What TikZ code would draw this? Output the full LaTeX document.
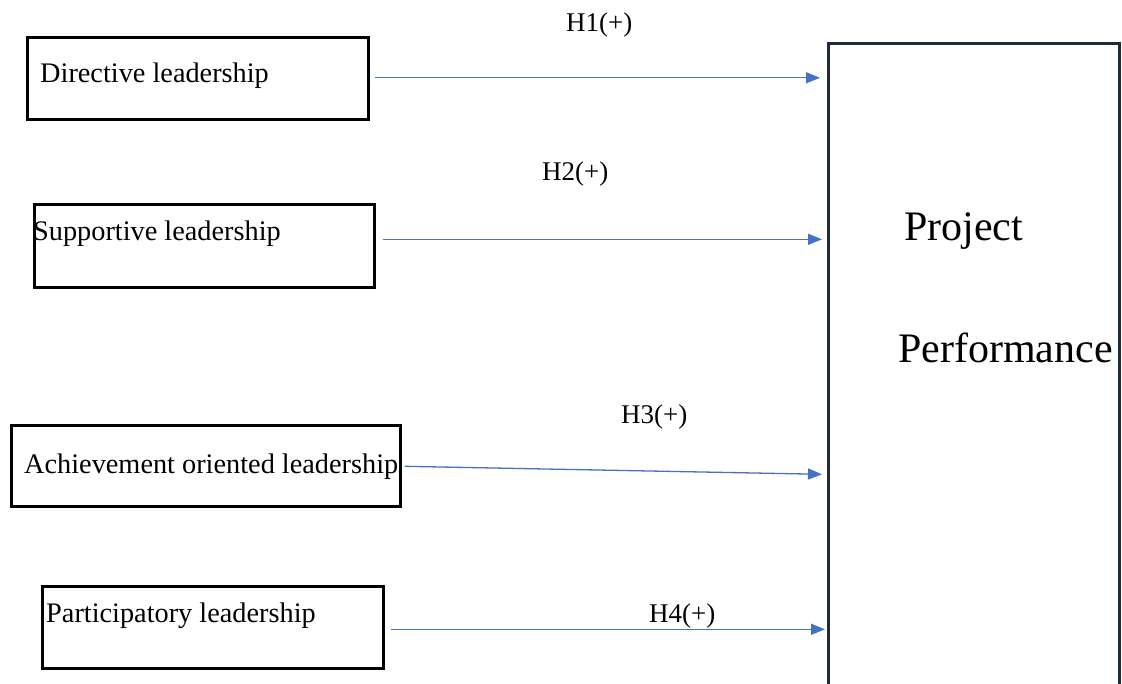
\documentclass[tikz,border=0pt]{standalone}
\usepackage{fontspec}
\setmainfont{Liberation Serif}
\usetikzlibrary{arrows.meta,calc}
\definecolor{arrblue}{HTML}{4472C4}
\definecolor{navy}{HTML}{1F2A3C}
\tikzset{
  lbox/.style={draw=black, line width=2.6pt, minimum width=#1, minimum height=82, inner sep=0, anchor=north west},
  ltext/.style={font=\fontsize{28.3}{31}\selectfont, inner sep=0, anchor=base west},
  hlab/.style={font=\fontsize{27}{30}\selectfont, inner sep=0, anchor=base west},
  ptext/.style={font=\fontsize{42}{46}\selectfont, inner sep=0, anchor=base west},
  arr/.style={draw=arrblue, line width=1.3pt, -{Triangle[length=14pt,width=11pt]}},
}
\begin{document}
\begin{tikzpicture}[x=1pt,y=-1pt]
\useasboundingbox (0,0) rectangle (1122,683);
\clip (0,0) rectangle (1122,683);
\fill[white] (0,0) rectangle (1122,683);
% left boxes
\node[lbox=341] (b1) at (26,36) {};
\node[lbox=340, minimum height=83] (b2) at (33,203) {};
\node[lbox=389, minimum height=81] (b3) at (10,424) {};
\node[lbox=341] (b4) at (41,585) {};
\node[ltext] (t1) at (40,82) {Directive leadership};
\node[ltext] (t2) at (33,240) {Supportive leadership};
\node[ltext] (t3) at (24,473) {Achievement oriented leadership};
\node[ltext] (t4) at (46,622) {Participatory leadership};
% big box
\node[draw=navy, line width=2.6pt, minimum width=291, minimum height=660, inner sep=0, anchor=north west] (pp) at (827,42) {};
\node[ptext] (p1) at (904,240) {Project};
\node[ptext] (p2) at (898,362) {Performance};
% labels
\node[hlab] (h1) at (566,31) {H1(+)};
\node[hlab] (h2) at (542,180) {H2(+)};
\node[hlab] (h3) at (621,423) {H3(+)};
\node[hlab] (h4) at (649,622) {H4(+)};
% arrows
\draw[arr] ($(b1.east)+(5,-0.5)$) -- ($(pp.west |- b1.east)+(-7,-0.5)$);
\draw[arr] ($(b2.east)+(7,-6.5)$) -- ($(pp.west |- b2.east)+(-5,-6.5)$);
\draw[arr] ($(b3.east)+(3,0.5)$) -- ($(pp.west |- b3.east)+(-5,8.5)$);
\draw[arr] ($(b4.east)+(6,2)$) -- ($(pp.west |- b4.east)+(-2,2)$);
\end{tikzpicture}
\end{document}
